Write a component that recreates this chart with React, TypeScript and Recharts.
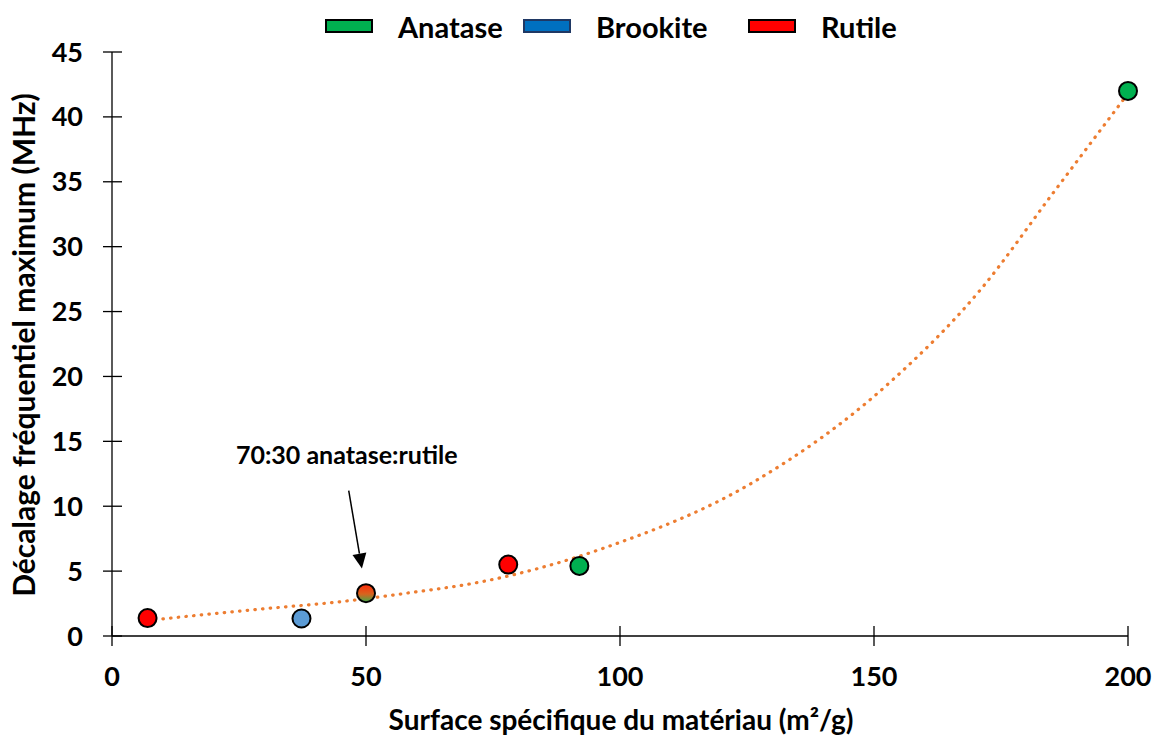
import React from 'react';
import { ComposedChart, Scatter, Line, XAxis, YAxis, Legend, ReferenceLine } from 'recharts';

// points
const anatase = [{ x: 92, y: 5.4 }, { x: 200, y: 42 }];
const brookite = [{ x: 37.3, y: 1.35 }];
const rutile = [{ x: 7, y: 1.38 }, { x: 78, y: 5.5 }];
const mixed = [{ x: 50, y: 3.3 }];

// dotted trend curve
const trendX = [7, 17, 30, 44, 58, 73, 97, 126, 153, 171, 185, 200];
const trendY = [1.2, 1.6, 2.1, 2.6, 3.3, 4.2, 6.8, 11.8, 19.5, 26.7, 34.0, 41.8];
const trend = trendX.map((x, i) => ({ x, y: trendY[i] }));

const xTicks = [0, 50, 100, 150, 200];
const yTicks = [0, 5, 10, 15, 20, 25, 30, 35, 40, 45];

const legendNames = ['Anatase', 'Brookite', 'Rutile'];

const annotationText = '70:30 anatase:rutile';
const arrowFrom = { x: 46.6, y: 11.2 };
const arrowTo = { x: 49.2, y: 5.2 };

const xLabel = 'Surface spécifique du matériau (m²/g)';
const yLabel = 'Décalage fréquentiel maximum (MHz)';

const FONT = 'Lato, "Open Sans", sans-serif';
const LEGEND_STYLE: Record<string, { fill: string; border: string; width: number }> = {
    Anatase: { fill: '#00B050', border: '#000', width: 198 },
    Brookite: { fill: '#0070C0', border: '#1F3864', width: 225 },
    Rutile: { fill: '#FF0000', border: '#000', width: 160 },
};

const dot = (fill: string) => (props: any) => (
    <circle cx={props.cx} cy={props.cy} r={9} fill={fill} stroke="#000" strokeWidth={2} />
);

const MixedDot = (props: any) => (
    <g>
        <defs>
            <linearGradient id="mixGrad" x1="0" y1="0" x2="0" y2="1">
                <stop offset="0%" stopColor="#FF2A0A" />
                <stop offset="55%" stopColor="#D8641E" />
                <stop offset="100%" stopColor="#3DAA48" />
            </linearGradient>
        </defs>
        <circle cx={props.cx} cy={props.cy} r={9} fill="url(#mixGrad)" stroke="#000" strokeWidth={2} />
    </g>
);

const YTick = (props: any) => {
    const { x, y, payload } = props;
    return (
        <g>
            <line x1={x - 9} x2={x + 10} y1={y} y2={y} stroke="#000" strokeWidth={1.3} />
            <text x={x - 29} y={y} dy={9.5} textAnchor="end" fontFamily={FONT} fontWeight={700} fontSize={27} fill="#000">
                {payload.value}
            </text>
        </g>
    );
};

const XTick = (props: any) => {
    const { x, y, payload } = props;
    return (
        <g>
            <line x1={x} x2={x} y1={y - 10} y2={y + 10} stroke="#000" strokeWidth={1.3} />
            <text x={x} y={y + 50} textAnchor="middle" fontFamily={FONT} fontWeight={700} fontSize={27} fill="#000">
                {payload.value}
            </text>
        </g>
    );
};

const Arrow = (props: any) => {
    const { x1, y1, x2, y2 } = props;
    const dx = x2 - x1;
    const dy = y2 - y1;
    const len = Math.sqrt(dx * dx + dy * dy);
    const ux = dx / len;
    const uy = dy / len;
    const bx = x2 - ux * 15;
    const by = y2 - uy * 15;
    return (
        <g>
            <text x={x1 - 2} y={y1 - 27} textAnchor="middle" fontFamily={FONT} fontWeight={700} fontSize={25} fill="#000">
                {annotationText}
            </text>
            <line x1={x1} y1={y1} x2={bx} y2={by} stroke="#000" strokeWidth={1.5} />
            <polygon
                points={`${x2},${y2} ${bx - uy * 7},${by + ux * 7} ${bx + uy * 7},${by - ux * 7}`}
                fill="#000"
            />
        </g>
    );
};

const renderLegend = () => (
    <div
        style={{
            display: 'flex',
            alignItems: 'center',
            height: 40,
            paddingLeft: 325,
            fontFamily: FONT,
            fontWeight: 700,
            fontSize: 29,
            color: '#000',
        }}
    >
        {legendNames.map((name) => {
            const s = LEGEND_STYLE[name];
            return (
                <div key={name} style={{ display: 'flex', alignItems: 'center', width: s.width }}>
                    <span
                        style={{
                            display: 'inline-block',
                            width: 44,
                            height: 10,
                            background: s.fill,
                            border: `2px solid ${s.border}`,
                            marginRight: 25,
                        }}
                    />
                    {name}
                </div>
            );
        })}
    </div>
);

export default function App() {
    return (
        <div style={{ position: 'absolute', left: 0, top: 0, width: 1160, height: 738, background: '#fff' }}>
            <ComposedChart width={1160} height={738} margin={{ top: 12, right: 32, bottom: 0, left: 0 }}>
                <XAxis
                    type="number"
                    dataKey="x"
                    domain={[0, 200]}
                    ticks={xTicks}
                    height={102}
                    tickSize={0}
                    tickMargin={0}
                    tickLine={false}
                    axisLine={{ stroke: '#000', strokeWidth: 1.3 }}
                    tick={<XTick />}
                    label={{
                        content: (p: any) => (
                            <text
                                x={p.viewBox.x + p.viewBox.width / 2 + 1}
                                y={p.viewBox.y + 94}
                                textAnchor="middle"
                                fontFamily={FONT}
                                fontWeight={700}
                                fontSize={28}
                                fill="#000"
                            >
                                {xLabel}
                            </text>
                        ),
                    }}
                />
                <YAxis
                    type="number"
                    dataKey="y"
                    domain={[0, 45]}
                    ticks={yTicks}
                    width={112}
                    tickSize={0}
                    tickMargin={0}
                    tickLine={false}
                    axisLine={{ stroke: '#000', strokeWidth: 1.3 }}
                    tick={<YTick />}
                    label={{
                        content: (p: any) => {
                            const cy = p.viewBox.y + p.viewBox.height / 2 + 1;
                            return (
                                <text
                                    x={35}
                                    y={cy}
                                    transform={`rotate(-90, 35, ${cy})`}
                                    textAnchor="middle"
                                    fontFamily={FONT}
                                    fontWeight={700}
                                    fontSize={30}
                                    fill="#000"
                                >
                                    {yLabel}
                                </text>
                            );
                        },
                    }}
                />
                <Legend verticalAlign="top" content={renderLegend} wrapperStyle={{ top: 6, left: 0, width: 1160 }} />
                <Scatter name="Anatase" data={anatase} dataKey="y" shape={dot('#00B050')} isAnimationActive={false} legendType="none" />
                <Scatter name="Brookite" data={brookite} dataKey="y" shape={dot('#5B9BD5')} isAnimationActive={false} legendType="none" />
                <Scatter name="Rutile" data={rutile} dataKey="y" shape={dot('#FF0000')} isAnimationActive={false} legendType="none" />
                <Scatter name="70:30" data={mixed} dataKey="y" shape={MixedDot} isAnimationActive={false} legendType="none" />
                <Line
                    data={trend}
                    dataKey="y"
                    type="monotone"
                    stroke="#ED7D31"
                    strokeWidth={3.2}
                    strokeDasharray="0.5 7.2"
                    strokeLinecap="round"
                    dot={false}
                    activeDot={false}
                    legendType="none"
                    isAnimationActive={false}
                />
                <ReferenceLine segment={[arrowFrom, arrowTo]} stroke="#000" shape={Arrow} />
            </ComposedChart>
        </div>
    );
}
